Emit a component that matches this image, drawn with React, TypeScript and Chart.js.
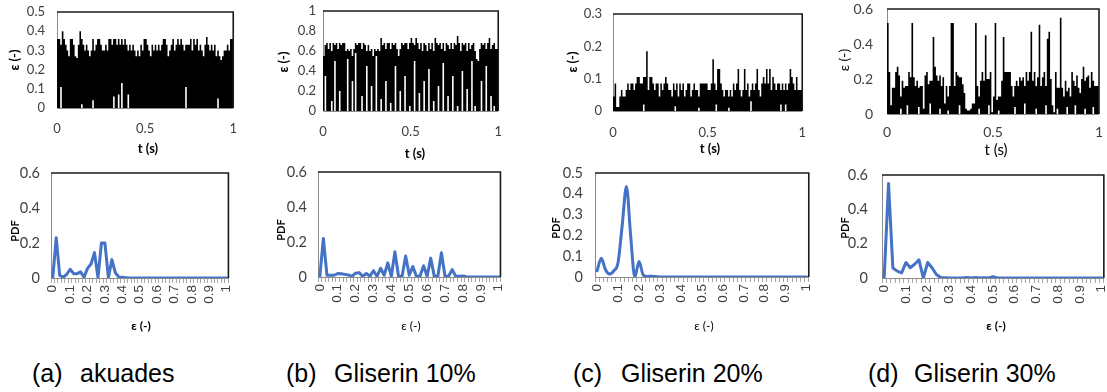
import React, { useEffect, useRef } from 'react';
import { Chart, registerables } from 'chart.js';

Chart.register(...registerables);

// ---------------- strain time series (per sampling window: max and min strain) ----------------
const A_HI = [
  0.33, 0.36, 0.36, 0.33, 0.40, 0.36, 0.33, 0.30, 0.27, 0.36,
  0.36, 0.33, 0.27, 0.26, 0.33, 0.40, 0.36, 0.33, 0.30, 0.33,
  0.30, 0.27, 0.30, 0.36, 0.30, 0.33, 0.36, 0.36, 0.33, 0.30,
  0.30, 0.33, 0.30, 0.36, 0.36, 0.33, 0.36, 0.36, 0.33, 0.36,
  0.33, 0.36, 0.33, 0.36, 0.33, 0.30, 0.33, 0.30, 0.33, 0.30,
  0.27, 0.30, 0.27, 0.33, 0.30, 0.36, 0.36, 0.33, 0.30, 0.27,
  0.33, 0.30, 0.33, 0.30, 0.33, 0.30, 0.33, 0.36, 0.36, 0.33,
  0.27, 0.30, 0.33, 0.36, 0.30, 0.33, 0.36, 0.33, 0.36, 0.33,
  0.30, 0.33, 0.33, 0.33, 0.36, 0.30, 0.36, 0.33, 0.36, 0.30,
  0.33, 0.30, 0.27, 0.33, 0.37, 0.33, 0.30, 0.33, 0.30, 0.33,
  0.27, 0.30, 0.27, 0.25, 0.27, 0.30, 0.30, 0.33, 0.30, 0.36,
];
const A_LO = [
  0, 0, 0, 0.11, 0, 0, 0, 0, 0, 0,
  0, 0, 0, 0, 0, 0, 0.02, 0, 0, 0,
  0, 0, 0, 0.04, 0, 0, 0, 0, 0, 0,
  0, 0, 0, 0, 0, 0, 0.06, 0, 0, 0.07,
  0, 0.13, 0, 0, 0, 0.07, 0, 0, 0, 0,
  0, 0, 0, 0, 0, 0, 0, 0, 0, 0,
  0, 0, 0, 0, 0, 0, 0, 0, 0, 0,
  0, 0, 0, 0, 0, 0, 0, 0, 0, 0,
  0, 0.11, 0, 0, 0, 0, 0, 0, 0, 0,
  0, 0, 0, 0, 0, 0, 0, 0, 0, 0,
  0, 0.05, 0, 0, 0, 0, 0, 0, 0, 0,
];

const B_HI = [
  0.62, 0.55, 0.66, 0.68, 0.62, 0.68, 0.60, 0.68, 0.66, 0.68,
  0.62, 0.68, 0.66, 0.68, 0.68, 0.60, 0.62, 0.60, 0.62, 0.55,
  0.62, 0.68, 0.66, 0.68, 0.68, 0.62, 0.68, 0.66, 0.60, 0.66,
  0.60, 0.62, 0.55, 0.62, 0.60, 0.62, 0.60, 0.73, 0.66, 0.68,
  0.62, 0.68, 0.68, 0.62, 0.68, 0.66, 0.68, 0.62, 0.55, 0.62,
  0.68, 0.66, 0.68, 0.68, 0.62, 0.68, 0.73, 0.68, 0.66, 0.73,
  0.68, 0.62, 0.68, 0.60, 0.68, 0.66, 0.60, 0.68, 0.62, 0.68,
  0.60, 0.73, 0.68, 0.66, 0.68, 0.62, 0.68, 0.60, 0.68, 0.66,
  0.62, 0.68, 0.62, 0.68, 0.66, 0.75, 0.68, 0.60, 0.68, 0.66,
  0.68, 0.60, 0.68, 0.62, 0.66, 0.68, 0.60, 0.52, 0.50, 0.62,
  0.68, 0.66, 0.68, 0.62, 0.68, 0.73, 0.62, 0.66, 0.68, 0.62,
];
const B_LO = [
  0, 0, 0.35, 0, 0, 0, 0.1, 0, 0.5, 0,
  0, 0.2, 0, 0, 0, 0, 0.52, 0, 0, 0.3,
  0, 0.58, 0, 0, 0, 0.15, 0, 0, 0.45, 0,
  0, 0.25, 0, 0, 0.55, 0, 0, 0.12, 0, 0,
  0.3, 0, 0, 0.08, 0, 0, 0.45, 0, 0, 0.2,
  0, 0, 0.35, 0, 0, 0.05, 0, 0, 0.5, 0,
  0, 0.18, 0, 0, 0.3, 0, 0, 0.42, 0, 0,
  0.1, 0, 0, 0.25, 0, 0, 0.48, 0, 0, 0.15,
  0, 0, 0.35, 0, 0, 0.05, 0, 0, 0.4, 0,
  0, 0.22, 0, 0, 0.5, 0, 0.05, 0, 0, 0,
  0.3, 0, 0, 0.45, 0, 0, 0.15, 0, 0.05, 0,
];

const C_HI = [
  0.045, 0.045, 0.085, 0.012, 0.012, 0.045, 0.065, 0.045, 0.045, 0.065,
  0.085, 0.065, 0.085, 0.085, 0.065, 0.085, 0.105, 0.105, 0.085, 0.085,
  0.105, 0.105, 0.185, 0.065, 0.105, 0.105, 0.085, 0.065, 0.085, 0.085,
  0.045, 0.085, 0.065, 0.085, 0.105, 0.085, 0.065, 0.065, 0.045, 0.085,
  0.065, 0.085, 0.045, 0.085, 0.065, 0.085, 0.045, 0.065, 0.085, 0.085,
  0.045, 0.065, 0.085, 0.065, 0.065, 0.045, 0.085, 0.085, 0.085, 0.085,
  0.085, 0.065, 0.065, 0.085, 0.16, 0.085, 0.065, 0.13, 0.13, 0.085,
  0.065, 0.045, 0.065, 0.065, 0.045, 0.065, 0.045, 0.085, 0.065, 0.085,
  0.13, 0.065, 0.045, 0.065, 0.13, 0.065, 0.085, 0.045, 0.065, 0.085,
  0.065, 0.085, 0.13, 0.065, 0.045, 0.085, 0.105, 0.085, 0.13, 0.085,
  0.13, 0.065, 0.105, 0.085, 0.065, 0.085, 0.085, 0.065, 0.085, 0.065,
  0.085, 0.065, 0.085, 0.13, 0.105, 0.085, 0.065, 0.105, 0.065, 0.065,
];
const C_LO = [
  0, 0, 0, 0, 0, 0, 0, 0, 0, 0,
  0, 0, 0, 0, 0, 0, 0, 0, 0, 0,
  0.02, 0, 0, 0, 0, 0, 0, 0, 0, 0,
  0, 0, 0, 0, 0, 0, 0, 0, 0, 0,
  0.015, 0, 0, 0, 0, 0, 0, 0, 0, 0,
  0, 0, 0, 0, 0, 0.01, 0, 0, 0, 0,
  0, 0, 0, 0, 0, 0, 0.02, 0, 0, 0,
  0, 0, 0, 0, 0.01, 0, 0, 0, 0, 0,
  0, 0, 0, 0, 0, 0, 0, 0, 0.03, 0,
  0, 0, 0, 0, 0, 0, 0, 0, 0, 0,
  0, 0, 0, 0, 0, 0, 0, 0.02, 0, 0,
  0.02, 0, 0, 0, 0, 0, 0, 0, 0, 0,
];

const D_HI = [
  0.52, 0.52, 0.24, 0.05, 0.15, 0.15, 0.24, 0.27, 0.22, 0.10,
  0.19, 0.15, 0.16, 0.16, 0.24, 0.21, 0.52, 0.21, 0.16, 0.19,
  0.15, 0.16, 0.16, 0.03, 0.22, 0.24, 0.17, 0.19, 0.19, 0.44,
  0.27, 0.22, 0.19, 0.22, 0.16, 0.21, 0.06, 0.16, 0.10, 0.16,
  0.52, 0.52, 0.16, 0.24, 0.22, 0.21, 0.21, 0.17, 0.12, 0.03,
  0.02, 0.02, 0.03, 0.06, 0.06, 0.52, 0.16, 0.10, 0.19, 0.24,
  0.19, 0.45, 0.20, 0.20, 0.24, 0.01, 0.10, 0.52, 0.08, 0.10,
  0.10, 0.19, 0.44, 0.24, 0.24, 0.24, 0.24, 0.16, 0.10, 0.16,
  0.19, 0.16, 0.21, 0.19, 0.21, 0.16, 0.24, 0.19, 0.24, 0.47,
  0.19, 0.24, 0.16, 0.21, 0.51, 0.16, 0.21, 0.24, 0.16, 0.43,
  0.47, 0.20, 0.05, 0.01, 0.24, 0.15, 0.15, 0.55, 0.15, 0.10,
  0.19, 0.13, 0.15, 0.10, 0.24, 0.19, 0.16, 0.22, 0.15, 0.12,
  0.20, 0.27, 0.19, 0.21, 0.22, 0.15, 0.24, 0.19, 0.16, 0.16,
];
const D_LO = [
  0, 0, 0, 0, 0, 0, 0, 0, 0, 0.03,
  0, 0, 0, 0.05, 0, 0, 0, 0, 0, 0,
  0.04, 0, 0, 0, 0, 0, 0, 0.06, 0, 0,
  0, 0, 0, 0.03, 0, 0, 0, 0, 0.02, 0,
  0, 0, 0, 0, 0, 0.05, 0, 0, 0, 0,
  0, 0, 0, 0, 0, 0, 0, 0.03, 0, 0,
  0, 0, 0, 0.05, 0, 0, 0, 0, 0, 0.02,
  0, 0, 0, 0, 0, 0, 0, 0, 0, 0.04,
  0, 0, 0, 0, 0, 0.06, 0, 0, 0, 0,
  0, 0, 0.03, 0, 0, 0, 0, 0, 0.05, 0,
  0, 0, 0, 0, 0, 0.03, 0, 0, 0, 0,
  0, 0.04, 0, 0, 0, 0, 0.05, 0, 0, 0,
  0, 0, 0.03, 0, 0, 0, 0, 0.04, 0, 0,
];

// ---------------- probability density of strain ----------------
const PDF_BINS = [
  0, 0.02, 0.04, 0.06, 0.08, 0.1, 0.12, 0.14, 0.16, 0.18,
  0.2, 0.22, 0.24, 0.26, 0.28, 0.3, 0.32, 0.34, 0.36, 0.38,
  0.4, 0.42, 0.44, 0.46, 0.48, 0.5, 0.52, 0.54, 0.56, 0.58,
  0.6, 0.62, 0.64, 0.66, 0.68, 0.7, 0.72, 0.74, 0.76, 0.78,
  0.8, 0.82, 0.84, 0.86, 0.88, 0.9, 0.92, 0.94, 0.96, 0.98,
  1,
];
const PDF_A = [
  0, 0.23, 0.015, 0.005, 0.02, 0.05, 0.025, 0.025, 0.035, 0.005,
  0.055, 0.08, 0.145, 0.002, 0.2, 0.2, 0.002, 0.105, 0.03, 0.005,
  0.004, 0.002, 0, 0, 0, 0, 0, 0, 0, 0,
  0, 0, 0, 0, 0, 0, 0, 0, 0, 0,
  0, 0, 0, 0, 0, 0, 0, 0, 0, 0,
  0,
];
const PDF_B = [
  0, 0.22, 0.01, 0.01, 0.01, 0.02, 0.018, 0.015, 0.012, 0.004,
  0.022, 0.025, 0.004, 0.02, 0.004, 0.036, 0.004, 0.05, 0.01, 0.081,
  0.004, 0.144, 0.004, 0.004, 0.12, 0.01, 0.06, 0.004, 0.004, 0.064,
  0.004, 0.108, 0.004, 0.004, 0.138, 0.004, 0.004, 0.042, 0.004, 0.004,
  0.006, 0.002, 0, 0, 0, 0, 0, 0, 0, 0,
  0,
];
const PDF_C = [
  0.03, 0.09, 0.035, 0.015, 0.03, 0.07, 0.25, 0.435, 0.2, 0,
  0.075, 0.01, 0.003, 0.004, 0.002, 0, 0, 0, 0, 0,
  0, 0, 0, 0, 0, 0, 0, 0, 0, 0,
  0, 0, 0, 0, 0, 0, 0, 0, 0, 0,
  0, 0, 0, 0, 0, 0, 0, 0, 0, 0,
  0,
];
const PDF_D = [
  0, 0.55, 0.058, 0.04, 0.03, 0.09, 0.06, 0.08, 0.106, 0,
  0.09, 0.06, 0.02, 0.003, 0.002, 0, 0, 0, 0, 0.003,
  0, 0.003, 0, 0.002, 0, 0.008, 0, 0, 0, 0,
  0, 0, 0, 0, 0, 0, 0, 0, 0, 0,
  0, 0, 0, 0, 0, 0, 0, 0, 0, 0,
  0,
];

// ---------------- axis ranges and captions ----------------
const TIME_TICK_STEP = 0.5;
const STRAIN_Y_MAX = [0.5, 1, 0.3, 0.6];
const STRAIN_Y_STEP = [0.1, 0.2, 0.1, 0.2];
const PDF_Y_MAX = [0.6, 0.6, 0.5, 0.6];
const PDF_Y_STEP = [0.2, 0.2, 0.1, 0.2];
const PANEL_TAGS = ['(a)', '(b)', '(c)', '(d)'];
const PANEL_NAMES = ['akuades', 'Gliserin 10%', 'Gliserin 20%', 'Gliserin 30%'];

const STRAIN_SERIES = [
  { hi: A_HI, lo: A_LO },
  { hi: B_HI, lo: B_LO },
  { hi: C_HI, lo: C_LO },
  { hi: D_HI, lo: D_LO },
];
const PDF_SERIES = [PDF_A, PDF_B, PDF_C, PDF_D];

// ---------------- layout ----------------
type Box = [number, number, number, number]; // x, y, w, h of the canvas
type Rect = [number, number, number, number]; // left, top, right, bottom of plot area
interface Geo { box: Box; plot: Rect; yPad: number; xPad: number; font: number }

const TOP_GEO: Geo[] = [
  { box: [0, -30, 250, 170], plot: [57, 12, 240, 108], yPad: 12, xPad: 13, font: 13 },
  { box: [265, -30, 250, 170], plot: [323, 11, 505, 111], yPad: 7, xPad: 13, font: 13 },
  { box: [555, -30, 265, 170], plot: [613, 14, 808, 111], yPad: 11, xPad: 14, font: 13 },
  { box: [830, -30, 290, 170], plot: [887, 9, 1099, 114], yPad: 14, xPad: 10, font: 14 },
];
const BOTTOM_GEO: Geo[] = [
  { box: [0, 140, 245, 175], plot: [51, 173, 233, 278], yPad: 11, xPad: 2, font: 14.5 },
  { box: [262, 140, 255, 175], plot: [318, 172, 505, 277], yPad: 11, xPad: 2, font: 14.5 },
  { box: [545, 140, 280, 175], plot: [595, 173, 813, 277], yPad: 12, xPad: 2, font: 14.5 },
  { box: [830, 140, 290, 175], plot: [882, 175, 1106, 278], yPad: 14, xPad: 2, font: 14.5 },
];

const TICK_COLOR = '#404040';
const TICK_FONT = 'Lato';
const fmt = (v: number | string) => String(Math.round(Number(v) * 100) / 100);

// Plot-area frame: grey axis lines under the data, dark top/right border over it.
const framePlugin = {
  id: 'frame',
  beforeDatasetsDraw(chart: any) {
    const { ctx, chartArea } = chart;
    const { left, top, right, bottom } = chartArea;
    ctx.save();
    ctx.strokeStyle = '#8c8c8c';
    ctx.lineWidth = 1;
    ctx.beginPath();
    ctx.moveTo(left + 0.5, top);
    ctx.lineTo(left + 0.5, bottom + 0.5);
    ctx.lineTo(right, bottom + 0.5);
    ctx.stroke();
    ctx.restore();
  },
  afterDatasetsDraw(chart: any) {
    const { ctx, chartArea } = chart;
    const { left, top, right, bottom } = chartArea;
    ctx.save();
    ctx.strokeStyle = '#1a1a1a';
    ctx.lineWidth = 1.6;
    ctx.beginPath();
    ctx.moveTo(left, top);
    ctx.lineTo(right, top);
    ctx.lineTo(right, bottom);
    ctx.stroke();
    ctx.restore();
  },
};

function dims(g: Geo) {
  const [x, y, w, h] = g.box;
  const [l, t, r, b] = g.plot;
  return { yWidth: l - x, xHeight: y + h - b, padTop: t - y, padRight: x + w - r };
}

// one sample per window, held until the next window starts (x = window start, in s)
function toSteps(values: number[]) {
  const n = values.length;
  const pts = values.map((v, i) => ({ x: i / n, y: v }));
  pts.push({ x: 1, y: values[n - 1] });
  return pts;
}

function StrainPanel({ idx }: { idx: number }) {
  const ref = useRef<HTMLCanvasElement>(null);
  const g = TOP_GEO[idx];
  useEffect(() => {
    const { hi, lo } = STRAIN_SERIES[idx];
    const d = dims(g);
    const common = {
      stepped: 'after',
      fill: 'origin',
      borderWidth: 0,
      pointRadius: 0,
      pointHoverRadius: 0,
    };
    const chart = new Chart(ref.current!, {
      type: 'line',
      data: {
        datasets: [
          // window minimum: strain never fell below this level, so it stays blank underneath
          { ...common, data: toSteps(lo), backgroundColor: '#ffffff', borderColor: '#ffffff' } as any,
          // window maximum: filled strain envelope
          { ...common, data: toSteps(hi), backgroundColor: '#000000', borderColor: '#000000' } as any,
        ],
      },
      options: {
        responsive: false,
        animation: false,
        layout: { padding: { top: d.padTop, right: d.padRight, left: 0, bottom: 0 } },
        plugins: { legend: { display: false }, tooltip: { enabled: false } },
        scales: {
          x: {
            type: 'linear',
            min: 0,
            max: 1,
            offset: false,
            grid: { display: false, drawTicks: false },
            border: { display: false },
            afterFit: (s: any) => { s.height = d.xHeight; },
            ticks: {
              stepSize: TIME_TICK_STEP,
              padding: g.xPad,
              color: TICK_COLOR,
              font: { family: TICK_FONT, size: g.font },
              maxRotation: 0,
              autoSkip: false,
              callback: (v: any) => fmt(v),
            },
          },
          y: {
            min: 0,
            max: STRAIN_Y_MAX[idx],
            grid: { display: false, drawTicks: false },
            border: { display: false },
            afterFit: (s: any) => { s.width = d.yWidth; },
            ticks: {
              stepSize: STRAIN_Y_STEP[idx],
              padding: g.yPad,
              color: TICK_COLOR,
              font: { family: TICK_FONT, size: g.font },
              callback: (v: any) => fmt(v),
            },
          },
        },
      },
      plugins: [framePlugin],
    });
    return () => chart.destroy();
  }, [idx]);
  const [x, y, w, h] = g.box;
  return (
    <canvas ref={ref} width={w} height={h} style={{ position: 'absolute', left: x, top: y, width: w, height: h }} />
  );
}

function PdfPanel({ idx }: { idx: number }) {
  const ref = useRef<HTMLCanvasElement>(null);
  const g = BOTTOM_GEO[idx];
  useEffect(() => {
    const d = dims(g);
    const smooth = idx === 2;
    const chart = new Chart(ref.current!, {
      type: 'line',
      data: {
        labels: PDF_BINS,
        datasets: [
          {
            data: PDF_SERIES[idx],
            borderColor: '#4472C4',
            borderWidth: 3,
            pointRadius: 0,
            fill: false,
            tension: 0,
            cubicInterpolationMode: smooth ? 'monotone' : 'default',
            borderJoinStyle: 'round',
            borderCapStyle: 'round',
          } as any,
        ],
      },
      options: {
        responsive: false,
        animation: false,
        layout: { padding: { top: d.padTop, right: d.padRight, left: 0, bottom: 0 } },
        plugins: { legend: { display: false }, tooltip: { enabled: false } },
        scales: {
          x: {
            type: 'category',
            offset: true,
            grid: {
              display: true,
              drawOnChartArea: false,
              drawTicks: true,
              tickLength: 5,
              color: '#a6a6a6',
              offset: true,
            },
            border: { display: false },
            afterFit: (s: any) => { s.height = d.xHeight; },
            ticks: {
              autoSkip: false,
              minRotation: 90,
              maxRotation: 90,
              padding: g.xPad,
              color: TICK_COLOR,
              font: { family: 'Liberation Sans', size: 13.5 },
              callback: (_v: any, i: number) => (i % 5 === 0 ? fmt(PDF_BINS[i]) : ''),
            },
          },
          y: {
            min: 0,
            max: PDF_Y_MAX[idx],
            grid: { display: false, drawTicks: false },
            border: { display: false },
            afterFit: (s: any) => { s.width = d.yWidth; },
            ticks: {
              stepSize: PDF_Y_STEP[idx],
              padding: g.yPad,
              color: TICK_COLOR,
              font: { family: TICK_FONT, size: g.font },
              callback: (v: any) => fmt(v),
            },
          },
        },
      },
      plugins: [framePlugin],
    });
    return () => chart.destroy();
  }, [idx]);
  const [x, y, w, h] = g.box;
  return (
    <canvas ref={ref} width={w} height={h} style={{ position: 'absolute', left: x, top: y, width: w, height: h }} />
  );
}

function Text({ x, y, text, size, bold = false, rotate = false, family = TICK_FONT, color = '#000' }: {
  x: number; y: number; text: string; size: number; bold?: boolean; rotate?: boolean; family?: string; color?: string;
}) {
  return (
    <div
      style={{
        position: 'absolute',
        left: x,
        top: y,
        transform: `translate(-50%, -50%)${rotate ? ' rotate(-90deg)' : ''}`,
        fontFamily: family,
        fontSize: size,
        fontWeight: bold ? 700 : 400,
        lineHeight: 1,
        whiteSpace: 'nowrap',
        color,
      }}
    >
      {text}
    </div>
  );
}

// axis titles: x, y centre and bold flag
const STRAIN_YTITLE = [[14, 60, 1], [283, 62, 1], [572, 62, 1], [844, 60, 0]];
const STRAIN_XTITLE = [[148, 148, 1], [415, 153, 1], [710, 148, 1], [996, 149, 0]];
const PDF_YTITLE = [[14, 231], [280, 230], [555, 228], [844, 228]];
const PDF_XTITLE = [[141, 326, 1], [411, 326, 0], [704, 326, 0], [996, 326, 1]];
const TAG_X = [32, 286, 573, 868];
const NAME_X = [80, 334, 621, 914];

export default function App() {
  return (
    <div
      style={{
        position: 'absolute',
        left: 0,
        top: 0,
        width: 1107,
        height: 392,
        overflow: 'hidden',
        background: '#ffffff',
      }}
    >
      {[0, 1, 2, 3].map((i) => (
        <React.Fragment key={i}>
          <StrainPanel idx={i} />
          <PdfPanel idx={i} />
          <Text
            x={STRAIN_YTITLE[i][0]}
            y={STRAIN_YTITLE[i][1]}
            text="ε (-)"
            size={STRAIN_YTITLE[i][2] ? 13 : 14}
            bold={!!STRAIN_YTITLE[i][2]}
            rotate
          />
          <Text
            x={STRAIN_XTITLE[i][0]}
            y={STRAIN_XTITLE[i][1]}
            text="t (s)"
            size={STRAIN_XTITLE[i][2] ? 13 : 15}
            bold={!!STRAIN_XTITLE[i][2]}
          />
          <Text x={PDF_YTITLE[i][0]} y={PDF_YTITLE[i][1]} text="PDF" size={11} bold rotate />
          <Text
            x={PDF_XTITLE[i][0]}
            y={PDF_XTITLE[i][1]}
            text="ε (-)"
            size={12}
            bold={!!PDF_XTITLE[i][2]}
          />
          <div
            style={{
              position: 'absolute',
              left: TAG_X[i],
              top: 361,
              fontFamily: 'Liberation Sans',
              fontSize: 25,
              lineHeight: '25px',
              color: '#000',
              whiteSpace: 'nowrap',
            }}
          >
            {PANEL_TAGS[i]}
          </div>
          <div
            style={{
              position: 'absolute',
              left: NAME_X[i],
              top: 361,
              fontFamily: 'Liberation Sans',
              fontSize: 25,
              lineHeight: '25px',
              color: '#000',
              whiteSpace: 'nowrap',
            }}
          >
            {PANEL_NAMES[i]}
          </div>
        </React.Fragment>
      ))}
    </div>
  );
}
